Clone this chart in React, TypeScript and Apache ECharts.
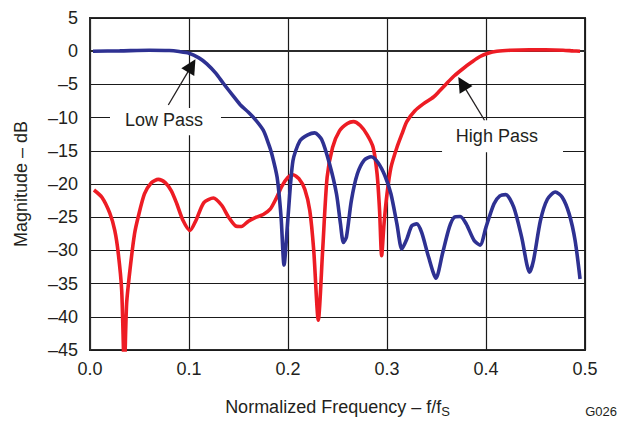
import React, { useEffect, useRef } from "react";
import * as echarts from "echarts";

// Normalized frequency (f/fS) vs magnitude (dB)
const lowPassFreq = [
  0.003, 0.03, 0.06, 0.08, 0.09, 0.1, 0.11, 0.118, 0.127, 0.135, 0.145, 0.152, 0.16, 0.167, 0.175,
  0.18, 0.1835, 0.189, 0.193, 0.196, 0.2, 0.205, 0.212, 0.22, 0.227, 0.234, 0.242, 0.249, 0.253,
  0.256, 0.259, 0.264, 0.27, 0.277, 0.284, 0.291, 0.298, 0.304, 0.31, 0.315, 0.32, 0.325, 0.33,
  0.335, 0.342, 0.3495, 0.356, 0.363, 0.368, 0.374, 0.38, 0.388, 0.394, 0.4, 0.408, 0.414, 0.42,
  0.428, 0.436, 0.444, 0.448, 0.455, 0.462, 0.47, 0.477, 0.484, 0.49, 0.495,
];
const lowPassMag = [
  0, 0.05, 0.15, 0.1, -0.05, -0.3, -1.0, -1.9, -3.3, -4.9, -6.8, -8.1, -9.2, -10.3, -11.9,
  -13.8, -15.4, -19, -25, -32.2, -25, -16.5, -13.5, -12.6, -12.3, -13.3, -17, -21.5, -26,
  -28.8, -28, -22.5, -18.5, -16.4, -15.9, -16.8, -18.8, -21.5, -26, -29.8, -28.3, -26.3, -26,
  -27.3, -31, -34.2, -30.5, -26.5, -25, -24.9, -26, -28.5, -29.2, -26.5, -23, -21.8, -21.6,
  -23.5, -28, -33.3, -31.5, -25.5, -22.3, -21.2, -22, -24.5, -28.5, -34.3,
];

const highPassFreq = [
  0.004, 0.012, 0.02, 0.025, 0.0286, 0.032, 0.0347, 0.037, 0.0404, 0.045, 0.0488, 0.055, 0.062,
  0.069, 0.076, 0.082, 0.0875, 0.094, 0.101, 0.107, 0.115, 0.1246, 0.133, 0.14, 0.147, 0.153,
  0.16, 0.168, 0.175, 0.182, 0.188, 0.194, 0.2, 0.205, 0.211, 0.217, 0.222, 0.226, 0.2306, 0.235,
  0.2395, 0.245, 0.252, 0.26, 0.266, 0.273, 0.28, 0.286, 0.29, 0.2925, 0.2946, 0.297, 0.3, 0.304,
  0.31, 0.315, 0.32, 0.328, 0.337, 0.347, 0.353, 0.36, 0.368, 0.377, 0.386, 0.394, 0.402, 0.411,
  0.425, 0.444, 0.46, 0.478, 0.488, 0.495,
];
const highPassMag = [
  -20.9, -22, -24.4, -27, -30.5, -36, -48, -38, -32.9, -27.5, -24.9, -21.5, -19.8,
  -19.3, -19.8, -21, -22.9, -25.5, -27, -25.5, -22.8, -22.1, -23.2, -25, -26.3, -26.4,
  -25.6, -25, -24.6, -23.8, -22.2, -20.3, -19, -18.6, -19.2, -20.8, -24, -30, -40.5, -30,
  -19, -14.5, -12, -10.9, -10.6, -11.2, -12.6, -14.5, -18.5, -24, -30.8, -26, -21.5, -17.5,
  -14.5, -12.5, -10.6, -9, -7.9, -6.9, -6.0, -4.9, -3.7, -2.6, -1.6, -0.8, -0.3, 0,
  0.15, 0.2, 0.2, 0.15, 0.05, 0,
];

const xTicks = [0, 0.1, 0.2, 0.3, 0.4, 0.5];
const yTicks = [5, 0, -5, -10, -15, -20, -25, -30, -35, -40, -45];

// annotation anchors in data coordinates
const annotations = [
  { label: "Low Pass", center: [0.0747, -10.3], boxFrom: [0.0202, -8.55], boxTo: [0.1323, -12.65], tail: [0.0791, -8.1], tip: [0.1065, -1.2] },
  { label: "High Pass", center: [0.411, -12.8], boxFrom: [0.3556, -10.4], boxTo: [0.4778, -15.2], tail: [0.3985, -10.4], tip: [0.372, -3.9] },
];

const FONT = "'Liberation Sans', Arial, Helvetica, sans-serif";
const TEXT = "#231f20";
const FS = 18;

export default function App() {
  const ref = useRef<HTMLDivElement>(null);
  useEffect(() => {
    if (!ref.current) return;
    const chart = echarts.init(ref.current, null, { renderer: "svg" });
    const fmtMinus = (v: number) => (v < 0 ? "\u2013" + Math.abs(v) : String(v));
    chart.setOption({
      animation: false,
      backgroundColor: "#fff",
      grid: { left: 90, right: 36, top: 18, bottom: 72, show: true, borderColor: "#2b2b2b", borderWidth: 2, backgroundColor: "transparent" },
      xAxis: {
        type: "value",
        min: xTicks[0],
        max: xTicks[xTicks.length - 1],
        interval: 0.1,
        name: "Normalized Frequency \u2013 f/f{s|S}",
        nameLocation: "middle",
        nameGap: 45,
        nameTextStyle: { fontFamily: FONT, fontSize: FS, color: TEXT, rich: { s: { fontFamily: FONT, fontSize: 13, color: TEXT, padding: [10, 0, 0, 0] } } },
        axisLine: { show: true, lineStyle: { color: "#2b2b2b", width: 2 } },
        axisTick: { show: false },
        axisLabel: { fontFamily: FONT, fontSize: FS, color: TEXT, margin: 10, formatter: (v: number) => v.toFixed(1) },
        splitLine: { show: true, lineStyle: { color: "#1a1a1a", width: 1.2 } },
      },
      yAxis: {
        type: "value",
        min: yTicks[yTicks.length - 1],
        max: yTicks[0],
        interval: 5,
        name: "Magnitude \u2013 dB",
        nameLocation: "middle",
        nameGap: 60,
        nameTextStyle: { fontFamily: FONT, fontSize: FS, color: TEXT },
        axisLine: { show: true, lineStyle: { color: "#2b2b2b", width: 2 } },
        axisTick: { show: false },
        axisLabel: { fontFamily: FONT, fontSize: FS, color: TEXT, margin: 12, formatter: fmtMinus },
        splitLine: { show: true, lineStyle: { color: "#1a1a1a", width: 1.2 } },
      },
      series: [
        {
          name: "Low Pass",
          type: "line",
          data: lowPassFreq.map((f, i) => [f, lowPassMag[i]]),
          showSymbol: false,
          smooth: 0.25,
          z: 3,
          lineStyle: { color: "#2e3192", width: 3.6 },
        },
        {
          name: "High Pass",
          type: "line",
          data: highPassFreq.map((f, i) => [f, highPassMag[i]]),
          showSymbol: false,
          smooth: 0.25,
          z: 2,
          lineStyle: { color: "#ed1c24", width: 3.6 },
        },
      ],
    });
    const px = (c: number[]) => chart.convertToPixel({ gridIndex: 0 }, c) as number[];
    const elements: any[] = [];
    annotations.forEach((a) => {
      const p1 = px(a.boxFrom);
      const p2 = px(a.boxTo);
      const c = px(a.center);
      const t0 = px(a.tail);
      const t1 = px(a.tip);
      elements.push({
        type: "rect",
        z: 50,
        shape: { x: Math.min(p1[0], p2[0]), y: Math.min(p1[1], p2[1]), width: Math.abs(p2[0] - p1[0]), height: Math.abs(p2[1] - p1[1]) },
        style: { fill: "#fff" },
      });
      elements.push({
        type: "text",
        z: 51,
        x: c[0],
        y: c[1],
        style: { text: a.label, fontFamily: FONT, fontSize: FS, fill: TEXT, align: "center", verticalAlign: "middle" },
      });
      const dx = t1[0] - t0[0];
      const dy = t1[1] - t0[1];
      const len = Math.hypot(dx, dy);
      const ux = dx / len;
      const uy = dy / len;
      const L = 15;
      const W = 7.5;
      const bx = t1[0] - ux * L;
      const by = t1[1] - uy * L;
      elements.push({
        type: "line",
        z: 52,
        shape: { x1: t0[0], y1: t0[1], x2: bx + ux * 2, y2: by + uy * 2 },
        style: { stroke: "#231f20", lineWidth: 1.3 },
      });
      elements.push({
        type: "polygon",
        z: 52,
        shape: { points: [[t1[0], t1[1]], [bx - uy * W, by + ux * W], [bx + uy * W, by - ux * W]] },
        style: { fill: "#111" },
      });
    });
    elements.push({
      type: "text",
      right: 4,
      bottom: 5,
      style: { text: "G026", fontFamily: FONT, fontSize: 13, fill: TEXT },
    });
    chart.setOption({ graphic: elements });
    return () => chart.dispose();
  }, []);
  return <div ref={ref} style={{ position: "fixed", left: 0, top: 0, width: 621, height: 423 }} />;
}
